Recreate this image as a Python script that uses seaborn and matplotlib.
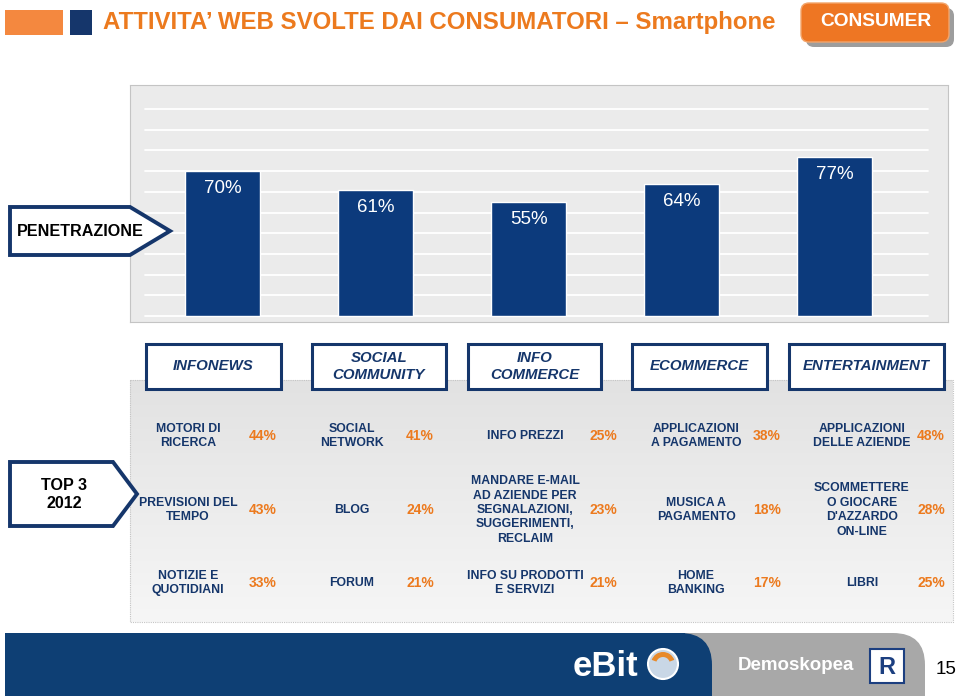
import numpy as np
import matplotlib
matplotlib.use("Agg")
import matplotlib.pyplot as plt
from matplotlib.patches import Polygon, FancyBboxPatch, Rectangle, Circle, Wedge
from matplotlib.colors import LinearSegmentedColormap
import seaborn as sns
import pandas as pd

# ---------------- data ----------------
categories = ["INFONEWS", "SOCIAL\nCOMMUNITY", "INFO\nCOMMERCE", "ECOMMERCE", "ENTERTAINMENT"]
penetration = [70, 61, 55, 64, 77]

row1_labels = ["MOTORI DI\nRICERCA", "SOCIAL\nNETWORK", "INFO PREZZI",
               "APPLICAZIONI\nA PAGAMENTO", "APPLICAZIONI\nDELLE AZIENDE"]
row1_values = [44, 41, 25, 38, 48]
row2_labels = ["PREVISIONI DEL\nTEMPO", "BLOG",
               "MANDARE E-MAIL\nAD AZIENDE PER\nSEGNALAZIONI,\nSUGGERIMENTI,\nRECLAIM",
               "MUSICA A\nPAGAMENTO", "SCOMMETTERE\nO GIOCARE\nD'AZZARDO\nON-LINE"]
row2_values = [43, 24, 23, 18, 28]
row3_labels = ["NOTIZIE E\nQUOTIDIANI", "FORUM", "INFO SU PRODOTTI\nE SERVIZI",
               "HOME\nBANKING", "LIBRI"]
row3_values = [33, 21, 21, 17, 25]

title = "ATTIVITA\u2019 WEB SVOLTE DAI CONSUMATORI \u2013 Smartphone"

# ---------------- style ----------------
sns.set_theme(style="white")
plt.rcParams["font.family"] = ["Liberation Sans", "DejaVu Sans"]
FONT = ["Liberation Sans", "DejaVu Sans"]

NAVY = "#0c3a7c"
DNAVY = "#15366b"
ORANGE = "#ec7a1e"

fig = plt.figure(figsize=(9.6, 6.96), dpi=100)
fig.patch.set_facecolor("white")

bg = fig.add_axes([0, 0, 1, 1], zorder=0)
bg.set_xlim(0, 960); bg.set_ylim(696, 0); bg.axis("off")

# table panel with gradient
cmap = LinearSegmentedColormap.from_list("g", ["#e2e2e2", "#f6f6f6"])
grad = np.linspace(0, 1, 200).reshape(-1, 1)
bg.imshow(grad, extent=(130, 953, 622, 380), cmap=cmap, aspect="auto", zorder=0)
bg.add_patch(Rectangle((130, 380), 823, 242, fill=False, ec="#c4c4c4", lw=0.8, ls=(0, (1, 1)), zorder=1))
bg.set_xlim(0, 960); bg.set_ylim(696, 0)

# ---------------- bar chart ----------------
ax = fig.add_axes([130 / 960, (696 - 322) / 696, 818 / 960, 237 / 696], zorder=1)
df = pd.DataFrame({"cat": categories, "pen": penetration})
sns.barplot(data=df, x="cat", y="pen", color=NAVY, saturation=1, width=0.49, ax=ax, zorder=3)
ax.set_xlim(-0.605, 4.742)
ax.set_ylim(-2.9, 111.6)
ax.set_facecolor("#ebebeb")
for g in range(0, 101, 10):
    ax.axhline(g, xmin=0.018, xmax=0.976, color="white", lw=1.3, zorder=1)
for s in ax.spines.values():
    s.set_visible(True); s.set_color("#c4c4c4"); s.set_linewidth(0.8); s.set_linestyle((0, (1, 1)))
ax.set_xticks([]); ax.set_yticks([]); ax.set_xlabel(""); ax.set_ylabel("")
for i, v in enumerate(penetration):
    ax.text(i, v - 8.6, f"{v}%", ha="center", va="center", color="white",
            fontsize=13.5, family=FONT, zorder=4)

# ---------------- foreground ----------------
fg = fig.add_axes([0, 0, 1, 1], zorder=2)
fg.set_xlim(0, 960); fg.set_ylim(696, 0); fg.axis("off"); fg.patch.set_alpha(0)

# title
fg.add_patch(Rectangle((5, 10), 58, 25, fc="#f4883f", ec="none"))
fg.add_patch(Rectangle((70, 10), 22, 25, fc=DNAVY, ec="none"))
fg.text(103, 23, title, ha="left", va="center", color=ORANGE, fontsize=17.3,
        fontweight="bold", family=FONT)

# CONSUMER button
fg.add_patch(FancyBboxPatch((806, 8), 148, 39, boxstyle="round,pad=0,rounding_size=8",
                            fc="#9d9d9d", ec="none"))
fg.add_patch(FancyBboxPatch((801, 3), 148, 39, boxstyle="round,pad=0,rounding_size=8",
                            fc="#ee7623", ec="#f3a56b", lw=1))
fg.text(876, 22, "CONSUMER", ha="center", va="center", color="white", fontsize=13.8,
        fontweight="bold", family=FONT)

# arrows
def arrow(x0, x1, xt, y0, y1, text, fs, tx):
    yc = (y0 + y1) / 2
    fg.add_patch(Polygon([(x0, y0), (x1, y0), (xt, yc), (x1, y1), (x0, y1)],
                         closed=True, fc="white", ec=DNAVY, lw=2.8, joinstyle="miter"))
    fg.text(tx, yc, text, ha="center", va="center", color="black",
            fontsize=fs, fontweight="bold", family=FONT, linespacing=1.25)

arrow(10, 130, 170, 207, 255, "PENETRAZIONE", 11.6, 80)
arrow(10, 113, 137, 462, 526, "TOP 3\n2012", 11.6, 64)

# category boxes
boxes = [(146, 281), (312, 446), (468, 601), (632, 767), (789, 944)]
for (x0, x1), lab in zip(boxes, categories):
    fg.add_patch(Rectangle((x0, 344), x1 - x0, 45, fc="white", ec=DNAVY, lw=2.2))
    fg.text((x0 + x1) / 2, 366.5, lab, ha="center", va="center", color=DNAVY,
            fontsize=10.8, fontweight="bold", style="italic", family=FONT, linespacing=1.35)

# table
label_x = [188, 352, 525, 696, 862]
pct_x = [263, 420, 603, 767, 931]
row_y = [436, 510, 583]
for ry, labs, vals in zip(row_y, [row1_labels, row2_labels, row3_labels],
                          [row1_values, row2_values, row3_values]):
    for lx, px, lab, val in zip(label_x, pct_x, labs, vals):
        fg.text(lx, ry, lab, ha="center", va="center", color=DNAVY, fontsize=8.8,
                fontweight="bold", family=FONT, linespacing=1.27)
        fg.text(px, ry, f"{val}%", ha="center", va="center", color=ORANGE,
                fontsize=10, fontweight="bold", family=FONT)

# footer
fg.add_patch(FancyBboxPatch((640, 633), 285, 120, boxstyle="round,pad=0,rounding_size=32",
                            fc="#a8a8a8", ec="none"))
fg.add_patch(Rectangle((5, 633), 680, 70, fc="#0e3f74", ec="none"))
fg.add_patch(FancyBboxPatch((600, 633), 112, 120, boxstyle="round,pad=0,rounding_size=32",
                            fc="#0e3f74", ec="none"))
fg.text(605, 667, "eBit", ha="center", va="center", color="white", fontsize=25,
        fontweight="bold", family=FONT)
fg.add_patch(Circle((663, 664), 15, fc="#c9d7e6", ec="white", lw=1.5))
fg.add_patch(Wedge((663, 664), 12, 200, 340, width=5, fc="#e88a2a", ec="none"))
fg.text(796, 666, "Demoskopea", ha="center", va="center", color="white", fontsize=13.5,
        fontweight="bold", family=FONT)
fg.add_patch(Rectangle((870, 649), 34, 34, fc="white", ec="#1c3f80", lw=1.5))
fg.text(887, 667, "R", ha="center", va="center", color="#1c3f80", fontsize=17,
        fontweight="bold", family=FONT)
fg.text(946, 670, "15", ha="center", va="center", color="black", fontsize=13.5, family=FONT)

fig.savefig("out.png", dpi=100)
